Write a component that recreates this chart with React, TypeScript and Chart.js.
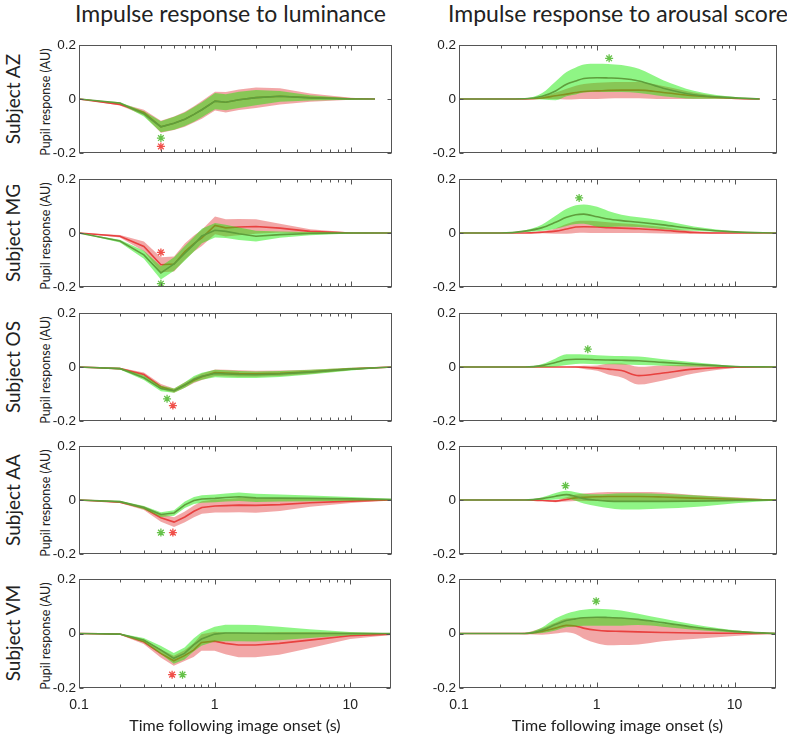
import React, { useEffect, useRef } from 'react';
import { Chart, registerables } from 'chart.js';
Chart.register(...registerables);

// ---------- DATA ----------
const T = [0.1, 0.2, 0.3, 0.4, 0.5, 0.6, 0.7, 0.8, 1, 1.2, 1.5, 2, 3, 5, 10, 20];
const T_AZ = [0.1, 0.2, 0.3, 0.4, 0.5, 0.6, 0.7, 0.8, 1, 1.2, 1.5, 2, 3, 5, 10, 15];

const COLUMN_TITLES = ['Impulse response to luminance', 'Impulse response to arousal score'];
const SUBJECTS = ['Subject AZ', 'Subject MG', 'Subject OS', 'Subject AA', 'Subject VM'];
const Y_TITLE = 'Pupil response (AU)';
const X_TITLE = 'Time following image onset (s)';
const X_TICK_LABELS = [0.1, 1, 10];
const Y_TICKS = [-0.2, 0, 0.2];

// Subject AZ
const AZ_LUM_RED_MEAN = [0, -0.02, -0.05, -0.103, -0.09, -0.075, -0.057, -0.04, -0.008, -0.012, -0.003, 0.005, 0.01, 0.005, 0.001, 0];
const AZ_LUM_RED_ERR = [0, 0.004, 0.01, 0.022, 0.025, 0.028, 0.03, 0.033, 0.035, 0.038, 0.038, 0.038, 0.03, 0.015, 0.004, 0];
const AZ_LUM_GREEN_MEAN = [0, -0.015, -0.055, -0.103, -0.09, -0.075, -0.057, -0.04, -0.008, -0.012, -0.003, 0.005, 0.01, 0.004, 0, 0];
const AZ_LUM_GREEN_ERR = [0, 0.003, 0.01, 0.02, 0.024, 0.025, 0.027, 0.028, 0.03, 0.03, 0.03, 0.028, 0.02, 0.01, 0.003, 0];
const AZ_LUM_STAR_RED = [[0.4, -0.176]];
const AZ_LUM_STAR_GREEN = [[0.4, -0.145]];

const AZ_ARO_RED_MEAN = [0, 0, 0, 0.004, 0.012, 0.018, 0.024, 0.028, 0.03, 0.032, 0.033, 0.033, 0.024, 0.012, 0.002, 0];
const AZ_ARO_RED_ERR = [0, 0, 0, 0.004, 0.012, 0.02, 0.025, 0.028, 0.03, 0.03, 0.03, 0.03, 0.024, 0.012, 0.002, 0];
const AZ_ARO_GREEN_MEAN = [0, 0, 0.001, 0.01, 0.03, 0.055, 0.067, 0.076, 0.079, 0.078, 0.076, 0.067, 0.04, 0.016, 0.004, 0];
const AZ_ARO_GREEN_ERR = [0, 0, 0.001, 0.012, 0.035, 0.045, 0.05, 0.052, 0.052, 0.052, 0.05, 0.045, 0.03, 0.015, 0.003, 0];
const AZ_ARO_STAR_RED: number[][] = [];
const AZ_ARO_STAR_GREEN = [[1.22, 0.151]];

// Subject MG
const MG_LUM_RED_MEAN = [0, -0.012, -0.05, -0.118, -0.115, -0.069, -0.039, -0.018, 0.028, 0.019, 0.022, 0.024, 0.018, 0.006, 0, 0];
const MG_LUM_RED_ERR = [0, 0.005, 0.018, 0.028, 0.028, 0.03, 0.03, 0.03, 0.033, 0.032, 0.03, 0.027, 0.016, 0.008, 0.002, 0];
const MG_LUM_GREEN_MEAN = [0, -0.03, -0.081, -0.148, -0.115, -0.075, -0.042, -0.011, 0.01, 0.006, -0.003, -0.012, -0.006, -0.002, 0, 0];
const MG_LUM_GREEN_ERR = [0, 0.005, 0.015, 0.025, 0.025, 0.027, 0.027, 0.027, 0.027, 0.025, 0.023, 0.02, 0.012, 0.006, 0.002, 0];
const MG_LUM_STAR_RED = [[0.4, -0.072]];
const MG_LUM_STAR_GREEN = [[0.4, -0.188]];

const MG_ARO_RED_MEAN = [0, 0, 0, 0.003, 0.007, 0.015, 0.022, 0.023, 0.022, 0.02, 0.018, 0.016, 0.01, 0.002, 0, 0];
const MG_ARO_RED_ERR = [0, 0, 0, 0.004, 0.01, 0.018, 0.022, 0.022, 0.022, 0.02, 0.018, 0.016, 0.012, 0.005, 0.001, 0];
const MG_ARO_GREEN_MEAN = [0, 0, 0.007, 0.02, 0.04, 0.058, 0.068, 0.07, 0.06, 0.052, 0.046, 0.04, 0.03, 0.016, 0.004, 0];
const MG_ARO_GREEN_ERR = [0, 0, 0.003, 0.012, 0.024, 0.032, 0.035, 0.036, 0.037, 0.03, 0.022, 0.018, 0.016, 0.008, 0.002, 0];
const MG_ARO_STAR_RED: number[][] = [];
const MG_ARO_STAR_GREEN = [[0.74, 0.13]];

// Subject OS
const OS_LUM_RED_MEAN = [0, -0.006, -0.028, -0.073, -0.088, -0.067, -0.049, -0.036, -0.021, -0.022, -0.024, -0.025, -0.023, -0.018, -0.007, 0];
const OS_LUM_RED_ERR = [0, 0.003, 0.008, 0.01, 0.008, 0.01, 0.01, 0.012, 0.012, 0.012, 0.012, 0.011, 0.01, 0.008, 0.004, 0];
const OS_LUM_GREEN_MEAN = [0, -0.006, -0.04, -0.08, -0.088, -0.067, -0.045, -0.034, -0.024, -0.026, -0.028, -0.029, -0.026, -0.019, -0.008, 0];
const OS_LUM_GREEN_ERR = [0, 0.003, 0.008, 0.01, 0.008, 0.01, 0.012, 0.013, 0.014, 0.014, 0.013, 0.012, 0.011, 0.009, 0.005, 0];
const OS_LUM_STAR_RED = [[0.49, -0.143]];
const OS_LUM_STAR_GREEN = [[0.444, -0.118]];

const OS_ARO_RED_MEAN = [0, 0, 0, 0, 0, 0, 0, -0.001, -0.004, -0.008, -0.013, -0.032, -0.022, -0.008, -0.001, 0];
const OS_ARO_RED_ERR = [0, 0, 0, 0, 0, 0, 0.002, 0.006, 0.01, 0.02, 0.026, 0.033, 0.028, 0.016, 0.003, 0];
const OS_ARO_GREEN_MEAN = [0, 0, 0, 0.005, 0.017, 0.027, 0.029, 0.029, 0.027, 0.026, 0.025, 0.023, 0.017, 0.01, 0.002, 0];
const OS_ARO_GREEN_ERR = [0, 0, 0, 0.006, 0.015, 0.02, 0.018, 0.017, 0.017, 0.016, 0.016, 0.016, 0.012, 0.008, 0.002, 0];
const OS_ARO_STAR_RED: number[][] = [];
const OS_ARO_STAR_GREEN = [[0.855, 0.066]];

// Subject AA
const AA_LUM_RED_MEAN = [0, -0.008, -0.03, -0.066, -0.082, -0.063, -0.042, -0.028, -0.022, -0.021, -0.019, -0.02, -0.017, -0.01, -0.004, 0];
const AA_LUM_RED_ERR = [0, 0.003, 0.007, 0.015, 0.018, 0.02, 0.022, 0.023, 0.024, 0.025, 0.026, 0.027, 0.024, 0.015, 0.007, 0];
const AA_LUM_GREEN_MEAN = [0, -0.006, -0.028, -0.054, -0.048, -0.018, -0.002, 0.004, 0.006, 0.009, 0.012, 0.008, 0.007, 0.006, 0.004, 0.002];
const AA_LUM_GREEN_ERR = [0, 0.003, 0.006, 0.009, 0.01, 0.012, 0.013, 0.014, 0.014, 0.015, 0.016, 0.015, 0.013, 0.011, 0.007, 0.003];
const AA_LUM_STAR_RED = [[0.49, -0.121]];
const AA_LUM_STAR_GREEN = [[0.4, -0.121]];

const AA_ARO_RED_MEAN = [0, 0, 0, -0.002, -0.004, 0.002, 0.008, 0.01, 0.012, 0.013, 0.013, 0.013, 0.011, 0.007, 0.003, 0];
const AA_ARO_RED_ERR = [0, 0, 0, 0.002, 0.004, 0.008, 0.012, 0.014, 0.016, 0.017, 0.017, 0.017, 0.017, 0.012, 0.007, 0];
const AA_ARO_GREEN_MEAN = [0, 0, 0, 0.005, 0.014, 0.02, 0.013, 0.005, -0.001, -0.004, -0.005, -0.005, -0.005, -0.004, -0.002, 0];
const AA_ARO_GREEN_ERR = [0, 0, 0, 0.005, 0.012, 0.014, 0.016, 0.018, 0.022, 0.026, 0.03, 0.03, 0.027, 0.022, 0.01, 0.002];
const AA_ARO_STAR_RED: number[][] = [];
const AA_ARO_STAR_GREEN = [[0.59, 0.053]];

// Subject VM
const VM_LUM_RED_MEAN = [0, -0.002, -0.03, -0.073, -0.1, -0.081, -0.061, -0.033, -0.028, -0.036, -0.042, -0.042, -0.036, -0.024, -0.008, -0.002];
const VM_LUM_RED_ERR = [0, 0.002, 0.008, 0.015, 0.018, 0.02, 0.025, 0.03, 0.035, 0.04, 0.045, 0.045, 0.042, 0.03, 0.012, 0.003];
const VM_LUM_GREEN_MEAN = [0, -0.002, -0.024, -0.06, -0.091, -0.073, -0.042, -0.02, -0.002, 0.002, 0.002, 0.001, 0, 0, 0, 0];
const VM_LUM_GREEN_ERR = [0, 0.002, 0.008, 0.015, 0.02, 0.022, 0.024, 0.025, 0.027, 0.03, 0.03, 0.03, 0.025, 0.016, 0.006, 0.001];
const VM_LUM_STAR_RED = [[0.486, -0.151]];
const VM_LUM_STAR_GREEN = [[0.58, -0.151]];

const VM_ARO_RED_MEAN = [0, 0, 0, 0.008, 0.02, 0.03, 0.028, 0.02, 0.012, 0.009, 0.008, 0.006, 0.004, 0.002, 0.001, 0];
const VM_ARO_RED_ERR = [0, 0, 0.003, 0.012, 0.02, 0.025, 0.03, 0.038, 0.048, 0.052, 0.05, 0.046, 0.032, 0.022, 0.01, 0];
const VM_ARO_GREEN_MEAN = [0, 0, 0, 0.012, 0.033, 0.048, 0.054, 0.058, 0.06, 0.059, 0.057, 0.052, 0.04, 0.024, 0.008, 0];
const VM_ARO_GREEN_ERR = [0, 0, 0.002, 0.01, 0.022, 0.025, 0.028, 0.029, 0.031, 0.03, 0.028, 0.021, 0.015, 0.01, 0.004, 0];
const VM_ARO_STAR_RED: number[][] = [];
const VM_ARO_STAR_GREEN = [[0.99, 0.119]];

// ---------- STYLE ----------
const RED_LINE = '#e8413f';
const RED_FILL = 'rgba(225, 45, 45, 0.42)';
const GREEN_LINE = '#5f9e3c';
const GREEN_FILL = 'rgba(20, 235, 0, 0.48)';
const STAR_RED = '#f0504a';
const STAR_GREEN = '#66c24a';
const AXIS_COLOR = '#555';
const TICK_FONT = { family: "'Liberation Sans', Arial, sans-serif", size: 13.5 };
const LABEL_FONT = "Lato, 'Open Sans', sans-serif";

const ROW_TOPS = [44, 178, 312, 445, 578];
const PLOT_H = 110;
const COLS = [
  { left: 79, width: 313 },
  { left: 459, width: 318 },
];
const Y_AXIS_W = 45;
const PAD_R = 8;
const PAD_T = 10;

const PANELS = [
  { row: 0, col: 0, t: T_AZ, rm: AZ_LUM_RED_MEAN, re: AZ_LUM_RED_ERR, gm: AZ_LUM_GREEN_MEAN, ge: AZ_LUM_GREEN_ERR, sr: AZ_LUM_STAR_RED, sg: AZ_LUM_STAR_GREEN },
  { row: 0, col: 1, t: T_AZ, rm: AZ_ARO_RED_MEAN, re: AZ_ARO_RED_ERR, gm: AZ_ARO_GREEN_MEAN, ge: AZ_ARO_GREEN_ERR, sr: AZ_ARO_STAR_RED, sg: AZ_ARO_STAR_GREEN },
  { row: 1, col: 0, t: T, rm: MG_LUM_RED_MEAN, re: MG_LUM_RED_ERR, gm: MG_LUM_GREEN_MEAN, ge: MG_LUM_GREEN_ERR, sr: MG_LUM_STAR_RED, sg: MG_LUM_STAR_GREEN },
  { row: 1, col: 1, t: T, rm: MG_ARO_RED_MEAN, re: MG_ARO_RED_ERR, gm: MG_ARO_GREEN_MEAN, ge: MG_ARO_GREEN_ERR, sr: MG_ARO_STAR_RED, sg: MG_ARO_STAR_GREEN },
  { row: 2, col: 0, t: T, rm: OS_LUM_RED_MEAN, re: OS_LUM_RED_ERR, gm: OS_LUM_GREEN_MEAN, ge: OS_LUM_GREEN_ERR, sr: OS_LUM_STAR_RED, sg: OS_LUM_STAR_GREEN },
  { row: 2, col: 1, t: T, rm: OS_ARO_RED_MEAN, re: OS_ARO_RED_ERR, gm: OS_ARO_GREEN_MEAN, ge: OS_ARO_GREEN_ERR, sr: OS_ARO_STAR_RED, sg: OS_ARO_STAR_GREEN },
  { row: 3, col: 0, t: T, rm: AA_LUM_RED_MEAN, re: AA_LUM_RED_ERR, gm: AA_LUM_GREEN_MEAN, ge: AA_LUM_GREEN_ERR, sr: AA_LUM_STAR_RED, sg: AA_LUM_STAR_GREEN },
  { row: 3, col: 1, t: T, rm: AA_ARO_RED_MEAN, re: AA_ARO_RED_ERR, gm: AA_ARO_GREEN_MEAN, ge: AA_ARO_GREEN_ERR, sr: AA_ARO_STAR_RED, sg: AA_ARO_STAR_GREEN },
  { row: 4, col: 0, t: T, rm: VM_LUM_RED_MEAN, re: VM_LUM_RED_ERR, gm: VM_LUM_GREEN_MEAN, ge: VM_LUM_GREEN_ERR, sr: VM_LUM_STAR_RED, sg: VM_LUM_STAR_GREEN },
  { row: 4, col: 1, t: T, rm: VM_ARO_RED_MEAN, re: VM_ARO_RED_ERR, gm: VM_ARO_GREEN_MEAN, ge: VM_ARO_GREEN_ERR, sr: VM_ARO_STAR_RED, sg: VM_ARO_STAR_GREEN },
];

const X_MINOR = [0.2, 0.3, 0.4, 0.5, 0.6, 0.7, 0.8, 0.9, 2, 3, 4, 5, 6, 7, 8, 9];
const X_MAJOR = [1, 10];

const boxPlugin = {
  id: 'boxTicks',
  afterDatasetsDraw(chart: any) {
    const { ctx, chartArea: a, scales } = chart;
    const xs = scales.x;
    const ys = scales.y;
    const L = Math.round(a.left) + 0.5;
    const R = Math.round(a.right) - 0.5;
    const Tp = Math.round(a.top) + 0.5;
    const B = Math.round(a.bottom) - 0.5;
    ctx.save();
    ctx.strokeStyle = AXIS_COLOR;
    ctx.lineWidth = 1;
    ctx.strokeRect(L, Tp, R - L, B - Tp);
    ctx.beginPath();
    const xt = (v: number, len: number) => {
      const px = Math.round(xs.getPixelForValue(v)) + 0.5;
      ctx.moveTo(px, B);
      ctx.lineTo(px, B - len);
      ctx.moveTo(px, Tp);
      ctx.lineTo(px, Tp + len);
    };
    X_MINOR.forEach((v) => xt(v, 3));
    X_MAJOR.forEach((v) => xt(v, 5));
    Y_TICKS.forEach((v) => {
      const py = Math.round(ys.getPixelForValue(v)) + 0.5;
      ctx.moveTo(L, py);
      ctx.lineTo(L + 4, py);
      ctx.moveTo(R, py);
      ctx.lineTo(R - 4, py);
    });
    ctx.stroke();
    ctx.restore();
  },
};

function fmtY(v: number) {
  if (Math.abs(v) < 1e-9) return '0';
  return v > 0 ? v.toFixed(1) : '-' + Math.abs(v).toFixed(1);
}

function Panel({ p }: { p: any }) {
  const ref = useRef<HTMLCanvasElement>(null);
  const bottom = p.row === 4;
  const col = COLS[p.col];
  const cw = Y_AXIS_W + col.width + PAD_R;
  const xAxisH = bottom ? 48 : 0;
  const padB = bottom ? 0 : 10;
  const ch = PAD_T + PLOT_H + xAxisH + padB;
  const left = col.left - Y_AXIS_W;
  const top = ROW_TOPS[p.row] - PAD_T;

  useEffect(() => {
    const smooth = p.col === 1;
    const pts = (m: number[], e: number[], s: number) => p.t.map((x: number, i: number) => ({ x, y: m[i] + s * e[i] }));
    const common: any = {
      pointRadius: 0,
      tension: 0,
      cubicInterpolationMode: smooth ? 'monotone' : 'default',
    };
    const datasets: any[] = [
      { ...common, data: pts(p.rm, p.re, -1), borderWidth: 0, borderColor: 'rgba(0,0,0,0)', fill: false, order: 6 },
      { ...common, data: pts(p.rm, p.re, 1), borderWidth: 0, borderColor: 'rgba(0,0,0,0)', backgroundColor: RED_FILL, fill: 0, order: 5 },
      { ...common, data: pts(p.rm, p.re, 0), borderWidth: 1.6, borderColor: RED_LINE, fill: false, order: 4 },
      { ...common, data: pts(p.gm, p.ge, -1), borderWidth: 0, borderColor: 'rgba(0,0,0,0)', fill: false, order: 3 },
      { ...common, data: pts(p.gm, p.ge, 1), borderWidth: 0, borderColor: 'rgba(0,0,0,0)', backgroundColor: GREEN_FILL, fill: 3, order: 2 },
      { ...common, data: pts(p.gm, p.ge, 0), borderWidth: 1.6, borderColor: GREEN_LINE, fill: false, order: 1 },
      { data: p.sr.map((d: number[]) => ({ x: d[0], y: d[1] })), showLine: false, pointStyle: 'star', pointRadius: 4, borderColor: STAR_RED, backgroundColor: STAR_RED, pointBorderWidth: 1.3, order: 0 },
      { data: p.sg.map((d: number[]) => ({ x: d[0], y: d[1] })), showLine: false, pointStyle: 'star', pointRadius: 4, borderColor: STAR_GREEN, backgroundColor: STAR_GREEN, pointBorderWidth: 1.3, order: 0 },
    ];
    const chart = new Chart(ref.current as HTMLCanvasElement, {
      type: 'line',
      data: { datasets },
      plugins: [boxPlugin],
      options: {
        animation: false,
        responsive: false,
        maintainAspectRatio: false,
        devicePixelRatio: 1,
        events: [],
        layout: { padding: { top: PAD_T, right: PAD_R, bottom: padB, left: 0 } },
        plugins: {
          legend: { display: false },
          tooltip: { enabled: false },
          filler: { drawTime: 'beforeDatasetDraw', propagate: false },
        },
        scales: {
          x: {
            type: 'logarithmic',
            min: 0.1,
            max: 20,
            grid: { display: false, drawTicks: false },
            border: { display: false },
            ticks: {
              display: bottom,
              autoSkip: false,
              maxRotation: 0,
              padding: 9,
              font: { ...TICK_FONT, size: 14 },
              color: '#222',
              callback: (v: any) => {
                const n = Number(v);
                const hit = X_TICK_LABELS.find((t) => Math.abs(t - n) < 1e-9);
                return hit === undefined ? '' : String(hit);
              },
            },
            title: {
              display: bottom,
              text: X_TITLE,
              font: { family: LABEL_FONT, size: 16 },
              color: '#222',
              padding: { top: 0, bottom: 1 },
            },
            afterFit: (s: any) => {
              s.height = xAxisH;
            },
          },
          y: {
            min: -0.2,
            max: 0.2,
            grid: { display: false, drawTicks: false },
            border: { display: false },
            ticks: { stepSize: 0.2, padding: 3, font: TICK_FONT, color: '#222', callback: (v: any) => fmtY(Number(v)) },
            afterFit: (s: any) => {
              s.width = Y_AXIS_W;
            },
          },
        },
      } as any,
    });
    return () => chart.destroy();
  }, []);

  return (
    <canvas
      ref={ref}
      width={cw}
      height={ch}
      style={{ position: 'absolute', left, top, width: cw, height: ch }}
    />
  );
}

export default function App() {
  return (
    <div
      style={{
        position: 'absolute',
        left: 0,
        top: 0,
        width: 787,
        height: 736,
        background: '#fff',
        overflow: 'hidden',
        fontFamily: LABEL_FONT,
        color: '#222',
      }}
    >
      {COLUMN_TITLES.map((t, i) => (
        <div
          key={t}
          style={{
            position: 'absolute',
            left: COLS[i].left + COLS[i].width / 2 - (i === 0 ? 5 : 0),
            top: 0,
            transform: 'translateX(-50%)',
            fontSize: 23,
            lineHeight: '27px',
            whiteSpace: 'nowrap',
          }}
        >
          {t}
        </div>
      ))}
      {SUBJECTS.map((s, r) => (
        <div
          key={s}
          style={{
            position: 'absolute',
            left: 12,
            top: ROW_TOPS[r] + PLOT_H / 2,
            transform: 'translate(-50%, -50%) rotate(-90deg)',
            fontSize: 19,
            lineHeight: '19px',
            whiteSpace: 'nowrap',
          }}
        >
          {s}
        </div>
      ))}
      {SUBJECTS.map((s, r) => (
        <div
          key={'y' + s}
          style={{
            position: 'absolute',
            left: 45,
            top: ROW_TOPS[r] + PLOT_H / 2 + 3,
            transform: 'translate(-50%, -50%) rotate(-90deg)',
            fontSize: 12.5,
            lineHeight: '13px',
            whiteSpace: 'nowrap',
          }}
        >
          {Y_TITLE}
        </div>
      ))}
      {PANELS.map((p, i) => (
        <Panel key={i} p={p} />
      ))}
    </div>
  );
}
